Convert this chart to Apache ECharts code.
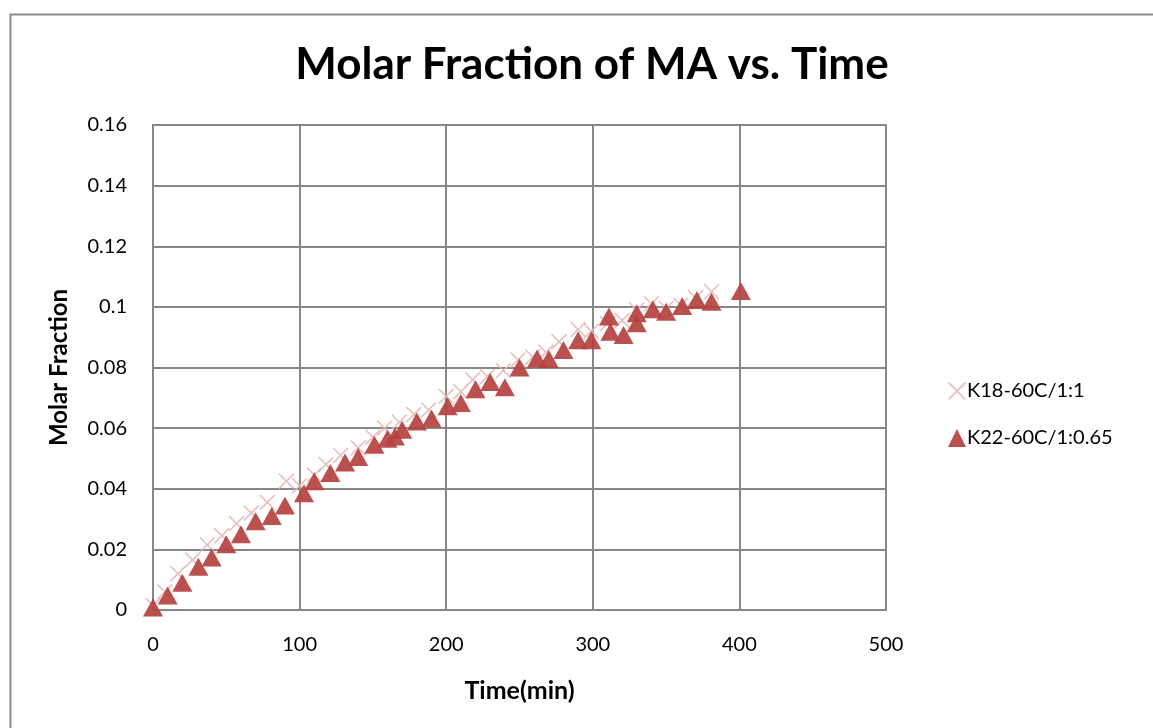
<!DOCTYPE html>
<html>
<head>
<meta charset="utf-8">
<script src="https://cdn.jsdelivr.net/npm/echarts@6/dist/echarts.min.js"></script>
<style>html,body{margin:0;padding:0;background:#fff;}#c{width:1153px;height:728px;}</style>
</head>
<body>
<div id="c"></div>
<script>
const titleText = 'Molar Fraction of MA vs. Time';
const xName = 'Time(min)';
const yName = 'Molar Fraction';
const seriesNames = ['K18-60C/1:1', 'K22-60C/1:0.65'];

const k18Time = [0, 8, 17, 27, 37, 47, 57, 67, 78, 91, 100, 110, 118, 128, 140, 150, 158, 168, 178, 188, 200, 210, 218, 228, 239, 249, 259, 268, 277, 290, 299, 310, 320, 330, 340, 350, 360, 370, 381];
const k18Frac = [0.0015, 0.0060, 0.0120, 0.0165, 0.0215, 0.0245, 0.0285, 0.0320, 0.0355, 0.0425, 0.0410, 0.0445, 0.0480, 0.0510, 0.0535, 0.0570, 0.0600, 0.0620, 0.0645, 0.0660, 0.0705, 0.0720, 0.0760, 0.0770, 0.0790, 0.0825, 0.0835, 0.0850, 0.0885, 0.0925, 0.0920, 0.0945, 0.0955, 0.0990, 0.1010, 0.0995, 0.1005, 0.1030, 0.1050];

const k22Time = [0, 10, 20, 31, 40, 50, 60, 70, 81, 90, 103, 110, 121, 131, 140, 151, 160, 165, 170, 180, 190, 201, 210, 220, 230, 240, 250, 262, 270, 280, 290, 299, 311, 312, 321, 330, 330, 341, 350, 361, 371, 381, 401];
const k22Frac = [0.0008, 0.0048, 0.0090, 0.0143, 0.0173, 0.0217, 0.0250, 0.0293, 0.0310, 0.0345, 0.0385, 0.0425, 0.0452, 0.0487, 0.0505, 0.0545, 0.0565, 0.0572, 0.0595, 0.0622, 0.0632, 0.0672, 0.0683, 0.0728, 0.0752, 0.0735, 0.0800, 0.0830, 0.0828, 0.0858, 0.0890, 0.0890, 0.0968, 0.0918, 0.0907, 0.0979, 0.0946, 0.0992, 0.0984, 0.1003, 0.1023, 0.1017, 0.1052];

const xTicks = {min: 0, max: 500, interval: 100};
const yTicks = {min: 0, max: 0.16, interval: 0.02};

const pair = (a, b) => a.map((v, i) => [v, b[i]]);
const crossPath = 'path://M0,1 L1,0 L7,6 L13,0 L14,1 L8,7 L14,13 L13,14 L7,8 L1,14 L0,13 L6,7 Z';
const FONT = 'Lato, "Liberation Sans", sans-serif';
const gridColor = '#878787';

const chart = echarts.init(document.getElementById('c'), null, {renderer: 'canvas'});
chart.setOption({
  backgroundColor: '#fff',
  animation: false,
  graphic: [{
    type: 'rect', left: 8, top: 12, shape: {width: 1200, height: 800},
    style: {fill: 'none', stroke: '#8a8a8a', lineWidth: 2}, z: -1
  }],
  title: {
    text: titleText, left: 587, top: 38, textAlign: 'center',
    textStyle: {fontFamily: FONT, fontWeight: 'bold', fontSize: 44, color: '#000'}
  },
  legend: {
    orient: 'vertical', left: 943, top: 376, itemGap: 27, itemWidth: 18, itemHeight: 18,
    textStyle: {fontFamily: FONT, fontSize: 20, color: '#000', padding: [0, 0, 0, -4]},
    data: [
      {name: seriesNames[0], icon: crossPath},
      {name: seriesNames[1], icon: 'triangle'}
    ]
  },
  grid: {left: 153, top: 125, right: 267, bottom: 118, show: true, borderColor: gridColor, borderWidth: 2},
  xAxis: {
    type: 'value', min: xTicks.min, max: xTicks.max, interval: xTicks.interval,
    name: xName, nameLocation: 'middle', nameGap: 68,
    nameTextStyle: {fontFamily: FONT, fontWeight: 'bold', fontSize: 25, color: '#000'},
    axisLine: {show: true, onZero: false, lineStyle: {color: gridColor, width: 2}},
    axisTick: {show: false},
    axisLabel: {fontFamily: FONT, fontSize: 20, color: '#000', margin: 25},
    splitLine: {show: true, lineStyle: {color: gridColor, width: 2}}
  },
  yAxis: {
    type: 'value', min: yTicks.min, max: yTicks.max, interval: yTicks.interval,
    name: yName, nameLocation: 'middle', nameGap: 82,
    nameTextStyle: {fontFamily: FONT, fontWeight: 'bold', fontSize: 24, color: '#000'},
    axisLine: {show: true, lineStyle: {color: gridColor, width: 2}},
    axisTick: {show: false},
    axisLabel: {fontFamily: FONT, fontSize: 20, color: '#000', margin: 26,
      formatter: v => String(+v.toFixed(2))},
    splitLine: {show: true, lineStyle: {color: gridColor, width: 2}}
  },
  series: [
    {
      name: seriesNames[0], type: 'scatter', symbol: crossPath, symbolSize: 16,
      itemStyle: {color: '#e6b9b8', opacity: 0.9},
      data: pair(k18Time, k18Frac), z: 2
    },
    {
      name: seriesNames[1], type: 'scatter', symbol: 'triangle', symbolSize: [20, 18],
      itemStyle: {color: '#b5413f', opacity: 0.92},
      data: pair(k22Time, k22Frac), z: 3
    }
  ]
});
</script>
</body>
</html>
